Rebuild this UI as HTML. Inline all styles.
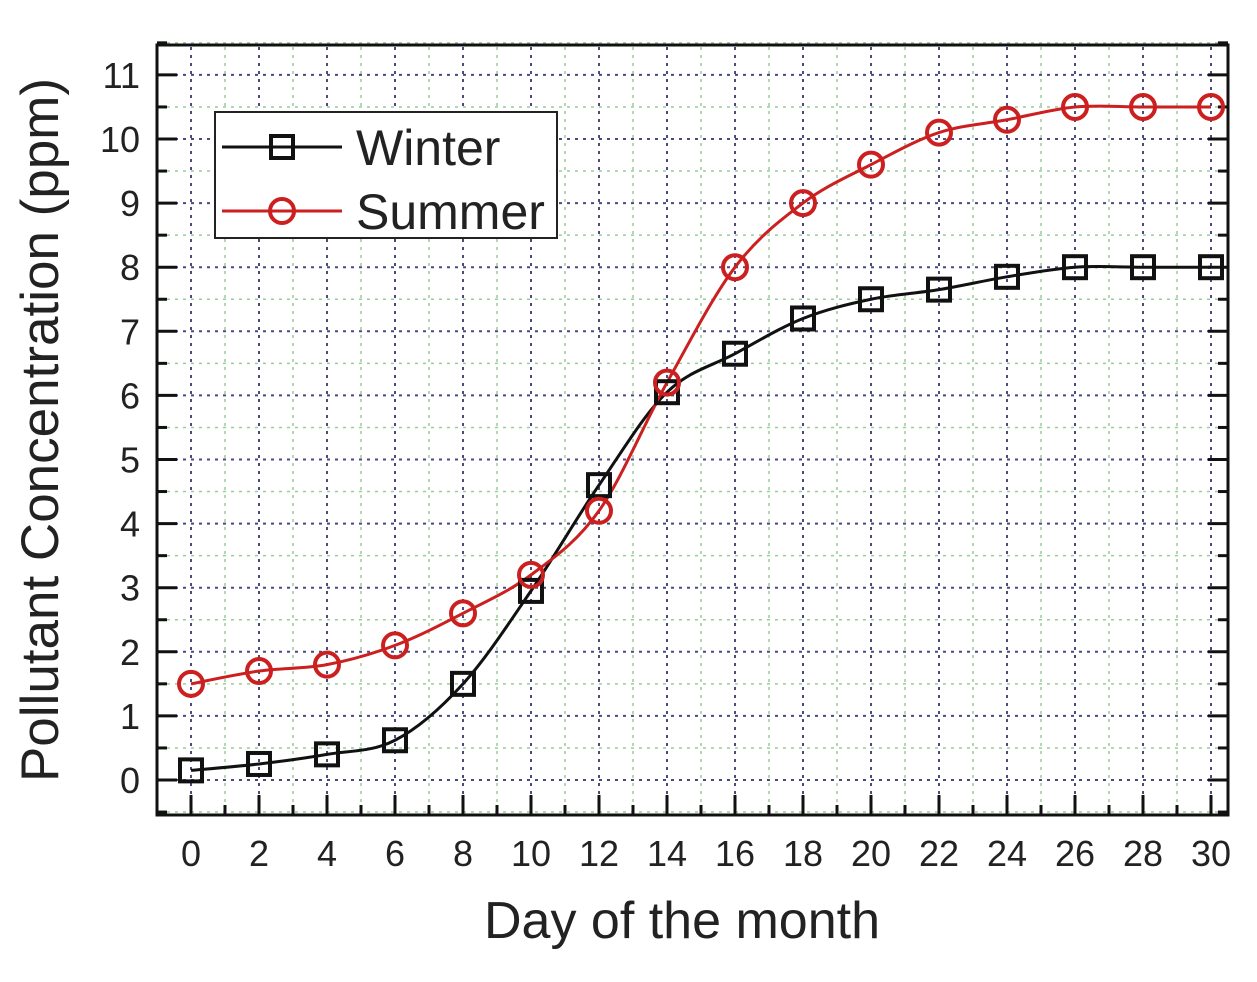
<!DOCTYPE html>
<html><head><meta charset="utf-8"><style>
body{margin:0;background:#fff;}
svg text{font-family:"Liberation Sans",sans-serif;}
</style></head><body>
<svg width="1257" height="977" viewBox="0 0 1257 977">
<g id="grid"></g>
<g id="ticks"></g>
<g id="series"></g>
<rect x="157" y="45" width="1071" height="770" fill="none" stroke="#111" stroke-width="3"/>
<text x="682" y="938" font-size="52" text-anchor="middle" fill="#222">Day of the month</text>
<text transform="translate(58,430) rotate(-90)" font-size="53" text-anchor="middle" fill="#222">Pollutant Concentration (ppm)</text>
<g>
<rect x="215" y="112" width="342" height="126" fill="#fff" stroke="#222" stroke-width="2"/>
<g>
<line x1="222" y1="147" x2="342" y2="147" stroke="#111" stroke-width="3"/>
<rect x="271" y="136" width="22" height="22" fill="none" stroke="#111" stroke-width="4"/>
<text x="356" y="165" font-size="50" fill="#222">Winter</text></g>
<g>
<line x1="222" y1="211" x2="342" y2="211" stroke="#cc1f1f" stroke-width="3"/>
<circle cx="282" cy="211" r="12" fill="none" stroke="#cc1f1f" stroke-width="4"/>
<text x="356" y="229" font-size="50" fill="#222">Summer</text></g>
</g>
</svg>
<script>
const days=[0,2,4,6,8,10,12,14,16,18,20,22,24,26,28,30];
const winter=[0.15,0.25,0.4,0.62,1.5,2.95,4.6,6.05,6.65,7.2,7.5,7.65,7.85,8,8,8];
const summer=[1.5,1.7,1.8,2.1,2.6,3.2,4.2,6.2,8,9,9.6,10.1,10.3,10.5,10.5,10.5];
const yTicks=[0,1,2,3,4,5,6,7,8,9,10,11];
const xTicks=[0,2,4,6,8,10,12,14,16,18,20,22,24,26,28,30];
const NS='http://www.w3.org/2000/svg';
const X=v=>191+v*34, Y=v=>780-v*64.1;
function mk(t,a,p){const e=document.createElementNS(NS,t);for(const k in a)e.setAttribute(k,a[k]);p.appendChild(e);return e;}
const grid=document.getElementById('grid'),ticks=document.getElementById('ticks'),ser=document.getElementById('series');
for(let d=-1;d<=30;d++){
 const maj=d%2===0;
 const l=mk('line',{x1:X(d),x2:X(d),y1:47,y2:813,stroke:maj?'#4a4a80':'#9c9',"stroke-width":maj?2:1.5,"stroke-dasharray":'3 5'},grid);
 
 
 const t=mk('line',{x1:X(d),x2:X(d),y1:815,y2:maj?795:805,stroke:'#111',"stroke-width":3},ticks);
 
 
}
for(let v=-0.5;v<=11.5;v+=0.5){
 const maj=Number.isInteger(v);
 const l=mk('line',{x1:159,x2:1226,y1:Y(v),y2:Y(v),stroke:maj?'#4a4a80':'#9c9',"stroke-width":maj?2:1.5,"stroke-dasharray":'3 5'},grid);
 
 
 mk('line',{x1:157,x2:maj?177:167,y1:Y(v),y2:Y(v),stroke:'#111',"stroke-width":3},ticks);
 mk('line',{x1:1228,x2:maj?1208:1218,y1:Y(v),y2:Y(v),stroke:'#111',"stroke-width":3},ticks);
}
xTicks.forEach(v=>{const t=mk('text',{x:X(v),y:866,"font-size":36,"text-anchor":'middle',fill:'#222'},ticks);t.textContent=v;
 
 });
yTicks.forEach(v=>{const t=mk('text',{x:140,y:Y(v)+13,"font-size":36,"text-anchor":'end',fill:'#222'},ticks);t.textContent=v;
 
 });
function path(vals){const p=days.map((d,i)=>[X(d),Y(vals[i])]);let s='M'+p[0];
 for(let i=0;i<p.length-1;i++){const a=p[i-1]||p[i],b=p[i],c=p[i+1],e=p[i+2]||c;
 s+=` C${b[0]+(c[0]-a[0])/6},${b[1]+(c[1]-a[1])/6} ${c[0]-(e[0]-b[0])/6},${c[1]-(e[1]-b[1])/6} ${c[0]},${c[1]}`;}return s;}
const wl=mk('path',{d:path(winter),fill:'none',stroke:'#111',"stroke-width":3},ser);


const sl=mk('path',{d:path(summer),fill:'none',stroke:'#cc1f1f',"stroke-width":3},ser);


days.forEach((d,i)=>{
 const r=mk('rect',{x:X(d)-11,y:Y(winter[i])-11,width:22,height:22,fill:'none',stroke:'#111',"stroke-width":4},ser);
 
 
 const c=mk('circle',{cx:X(d),cy:Y(summer[i]),r:12,fill:'none',stroke:'#cc1f1f',"stroke-width":4},ser);
 
 
});
</script>
</body></html>
